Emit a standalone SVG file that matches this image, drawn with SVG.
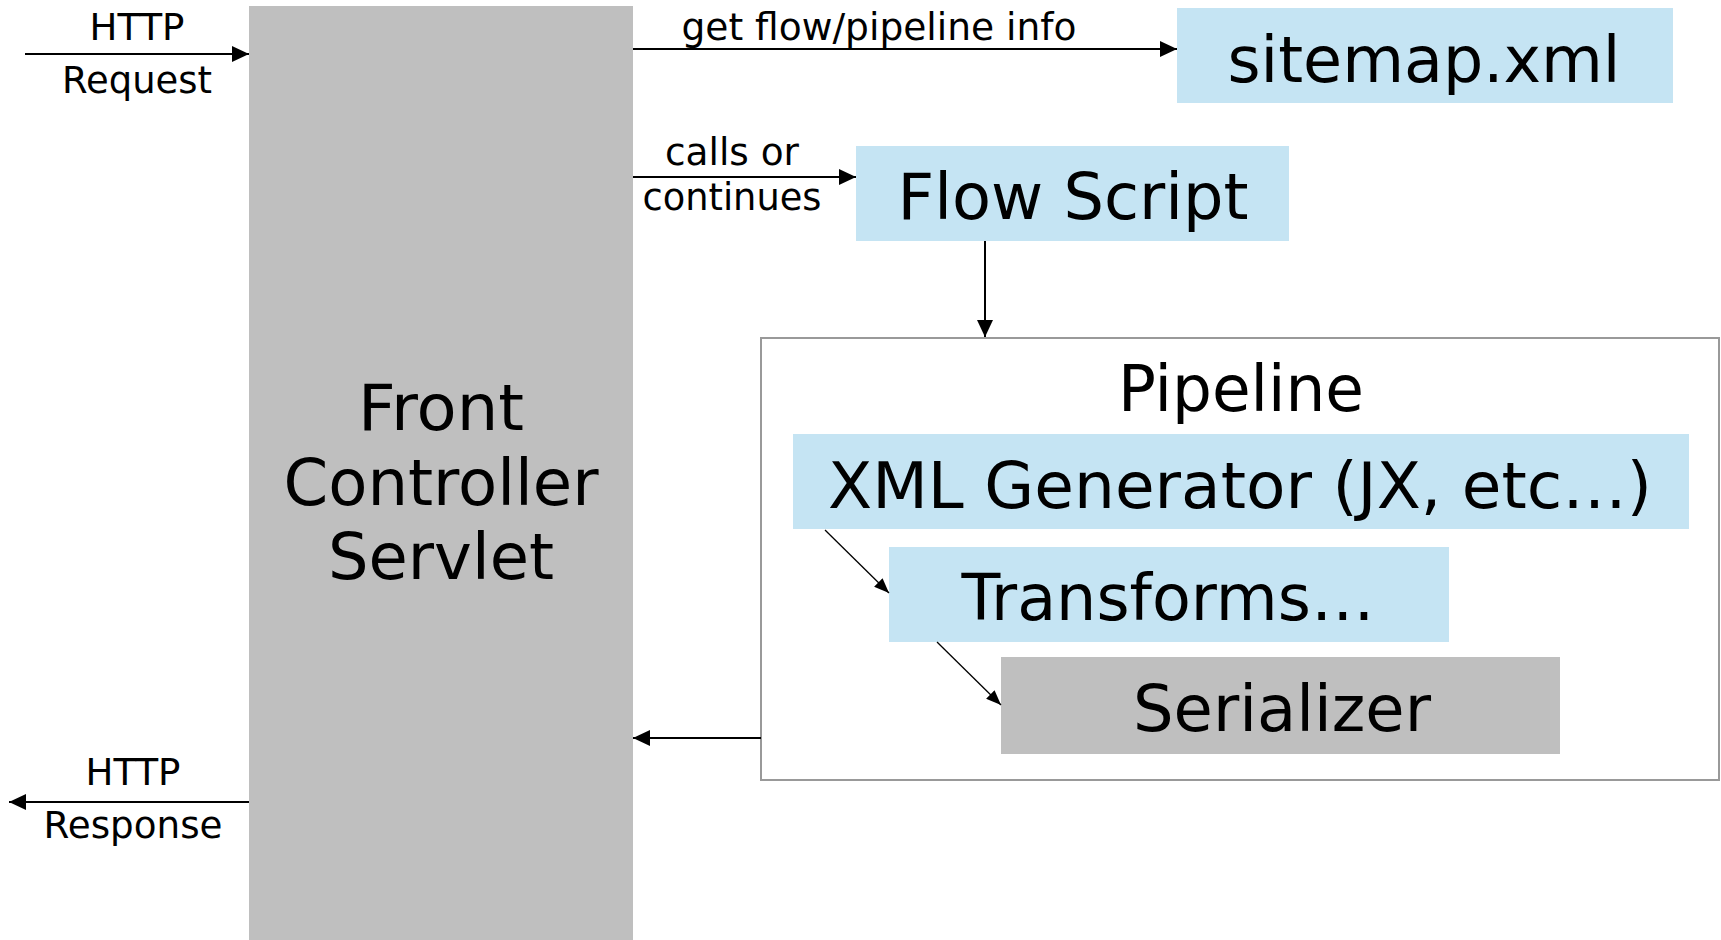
<svg xmlns="http://www.w3.org/2000/svg" width="1721" height="940" viewBox="0 0 1721 940">
<style>
  text { font-family: "DejaVu Sans", "Verdana", sans-serif; fill: #000; text-anchor: middle; }
  .sm { font-size: 37px; }
  .lg { font-size: 64px; }
  .blue { fill: #C5E4F3; }
  .gray { fill: #BFBFBF; }
  .conn { stroke: #000; stroke-width: 2; fill: none; }
  .thin { stroke: #000; stroke-width: 1.3; fill: none; }
</style>
<defs>
  <marker id="ah" markerUnits="userSpaceOnUse" markerWidth="18" markerHeight="16" refX="17" refY="8" orient="auto">
    <path d="M0,0 L17,8 L0,16 Z" fill="#000"/>
  </marker>
  <marker id="ahs" markerUnits="userSpaceOnUse" markerWidth="16" markerHeight="12" refX="15" refY="6" orient="auto">
    <path d="M0,0 L15,6 L0,12 Z" fill="#000"/>
  </marker>
</defs>
<rect width="1721" height="940" fill="#fff"/>

<g id="front-controller">
  <rect class="gray" x="249" y="6" width="384" height="934"/>
  <text class="lg" x="441" y="430" textLength="166" lengthAdjust="spacingAndGlyphs">Front</text>
  <text class="lg" x="441" y="505" textLength="315" lengthAdjust="spacingAndGlyphs">Controller</text>
  <text class="lg" x="441" y="579" textLength="226" lengthAdjust="spacingAndGlyphs">Servlet</text>
</g>

<g id="sitemap">
  <rect class="blue" x="1177" y="8" width="496" height="95"/>
  <text class="lg" x="1424" y="82" textLength="393" lengthAdjust="spacingAndGlyphs">sitemap.xml</text>
</g>

<g id="flow-script">
  <rect class="blue" x="856" y="146" width="433" height="95"/>
  <text class="lg" x="1073" y="219" textLength="351" lengthAdjust="spacingAndGlyphs">Flow Script</text>
</g>

<g id="pipeline">
  <rect x="761" y="338" width="958" height="442" fill="#fff" stroke="#999" stroke-width="2"/>
  <text class="lg" x="1241" y="411" textLength="246" lengthAdjust="spacingAndGlyphs">Pipeline</text>
</g>

<g id="xml-generator">
  <rect class="blue" x="793" y="434" width="896" height="95"/>
  <text class="lg" x="1240" y="508" textLength="824" lengthAdjust="spacingAndGlyphs">XML Generator (JX, etc…)</text>
</g>

<g id="transforms">
  <rect class="blue" x="889" y="547" width="560" height="95"/>
  <text class="lg" x="1168" y="620" textLength="413" lengthAdjust="spacingAndGlyphs">Transforms…</text>
</g>

<g id="serializer">
  <rect class="gray" x="1001" y="657" width="559" height="97"/>
  <text class="lg" x="1282" y="731" textLength="298" lengthAdjust="spacingAndGlyphs">Serializer</text>
</g>

<g id="connectors">
  <line class="conn" x1="25" y1="54" x2="249" y2="54" marker-end="url(#ah)"/>
  <text class="sm" x="137" y="40" textLength="95" lengthAdjust="spacingAndGlyphs">HTTP</text>
  <text class="sm" x="137" y="93" textLength="150" lengthAdjust="spacingAndGlyphs">Request</text>

  <line class="conn" x1="633" y1="49" x2="1177" y2="49" marker-end="url(#ah)"/>
  <text class="sm" x="879" y="40" textLength="395" lengthAdjust="spacingAndGlyphs">get flow/pipeline info</text>

  <line class="conn" x1="633" y1="177" x2="856" y2="177" marker-end="url(#ah)"/>
  <text class="sm" x="732" y="165" textLength="134" lengthAdjust="spacingAndGlyphs">calls or</text>
  <text class="sm" x="732" y="210" textLength="179" lengthAdjust="spacingAndGlyphs">continues</text>

  <line class="conn" x1="985" y1="241" x2="985" y2="337" marker-end="url(#ah)"/>

  <line class="thin" x1="825" y1="530" x2="889" y2="593" marker-end="url(#ahs)"/>
  <line class="thin" x1="937" y1="642" x2="1001" y2="705" marker-end="url(#ahs)"/>

  <line class="conn" x1="761" y1="738" x2="633" y2="738" marker-end="url(#ah)"/>

  <line class="conn" x1="249" y1="802" x2="9" y2="802" marker-end="url(#ah)"/>
  <text class="sm" x="133" y="785" textLength="95" lengthAdjust="spacingAndGlyphs">HTTP</text>
  <text class="sm" x="133" y="838" textLength="179" lengthAdjust="spacingAndGlyphs">Response</text>
</g>
</svg>
